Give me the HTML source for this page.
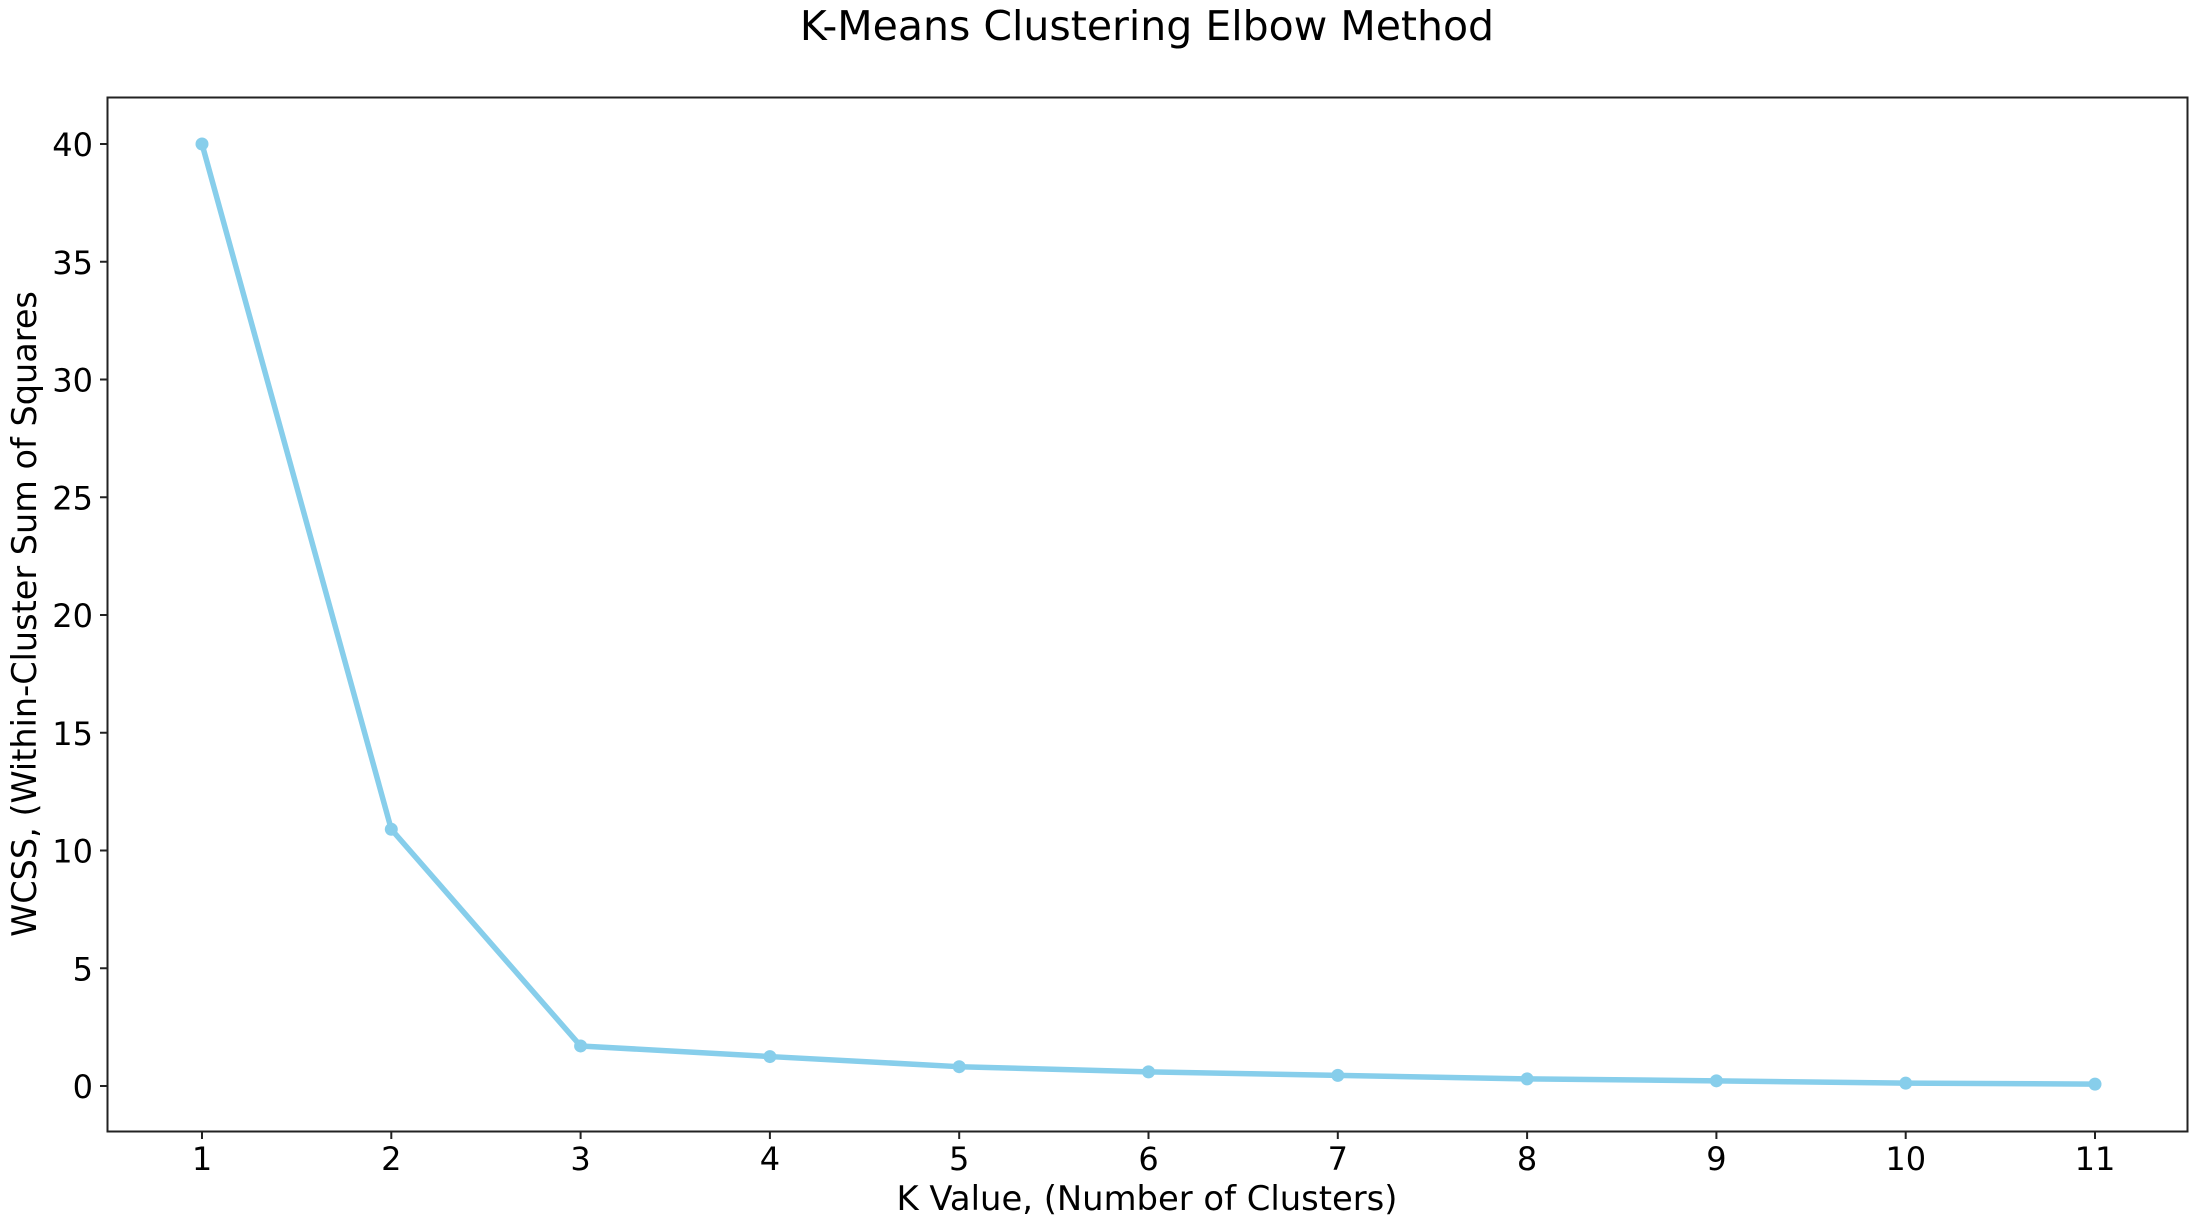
<!DOCTYPE html>
<html><head><meta charset="utf-8"><style>
html,body{margin:0;padding:0;background:#fff;}
svg{display:block;font-family:"DejaVu Sans","Liberation Sans",sans-serif;}
</style></head><body>
<svg id="chart" width="2194" height="1224" viewBox="0 0 2194 1224" xmlns="http://www.w3.org/2000/svg">
<text x="1147" y="40" font-size="41" text-anchor="middle">K-Means Clustering Elbow Method</text>
<rect x="107.5" y="97.5" width="2080" height="1034" fill="none" stroke="#222" stroke-width="2"/>
<g id="xticks"></g>
<g id="yticks"></g>
<g id="series"></g>
<text x="1147" y="1210" font-size="33.8" text-anchor="middle">K Value, (Number of Clusters)</text>
<text transform="translate(36,614) rotate(-90)" font-size="33.5" text-anchor="middle">WCSS, (Within-Cluster Sum of Squares</text>
</svg>
<script>
const kValues=[1,2,3,4,5,6,7,8,9,10,11];
const wcss=[40,10.9,1.7,1.25,0.82,0.6,0.45,0.3,0.22,0.12,0.08];
const yTicks=[0,5,10,15,20,25,30,35,40];
const NS="http://www.w3.org/2000/svg";
function xs(k){return 202+(k-1)*189.3;}
function ys(v){return 1086-v*23.55;}
const xg=document.getElementById('xticks'),yg=document.getElementById('yticks'),sg=document.getElementById('series');
kValues.forEach(k=>{
 const l=document.createElementNS(NS,'line');
 l.setAttribute('x1',xs(k));l.setAttribute('x2',xs(k));l.setAttribute('y1',1132);l.setAttribute('y2',1139);
 l.setAttribute('stroke','#222');l.setAttribute('stroke-width','2');
 
 
 xg.appendChild(l);
 const t=document.createElementNS(NS,'text');
 t.setAttribute('x',xs(k));t.setAttribute('y',1170);t.setAttribute('font-size','32');t.setAttribute('text-anchor','middle');
 t.textContent=k;
 
 
 xg.appendChild(t);
});
yTicks.forEach(v=>{
 const l=document.createElementNS(NS,'line');
 l.setAttribute('x1',100);l.setAttribute('x2',107);l.setAttribute('y1',ys(v));l.setAttribute('y2',ys(v));
 l.setAttribute('stroke','#222');l.setAttribute('stroke-width','2');
 
 
 yg.appendChild(l);
 const t=document.createElementNS(NS,'text');
 t.setAttribute('x',93);t.setAttribute('y',ys(v)+12);t.setAttribute('font-size','32');t.setAttribute('text-anchor','end');
 t.textContent=v;
 
 
 yg.appendChild(t);
});
const p=document.createElementNS(NS,'polyline');
p.setAttribute('points',kValues.map((k,i)=>xs(k)+','+ys(wcss[i])).join(' '));
p.setAttribute('fill','none');p.setAttribute('stroke','#87ceeb');p.setAttribute('stroke-width','5.5');p.setAttribute('stroke-linejoin','round');


sg.appendChild(p);
kValues.forEach((k,i)=>{
 const c=document.createElementNS(NS,'circle');
 c.setAttribute('cx',xs(k));c.setAttribute('cy',ys(wcss[i]));c.setAttribute('r',6.5);c.setAttribute('fill','#87ceeb');
 
 
 sg.appendChild(c);
});
</script>
</body></html>
